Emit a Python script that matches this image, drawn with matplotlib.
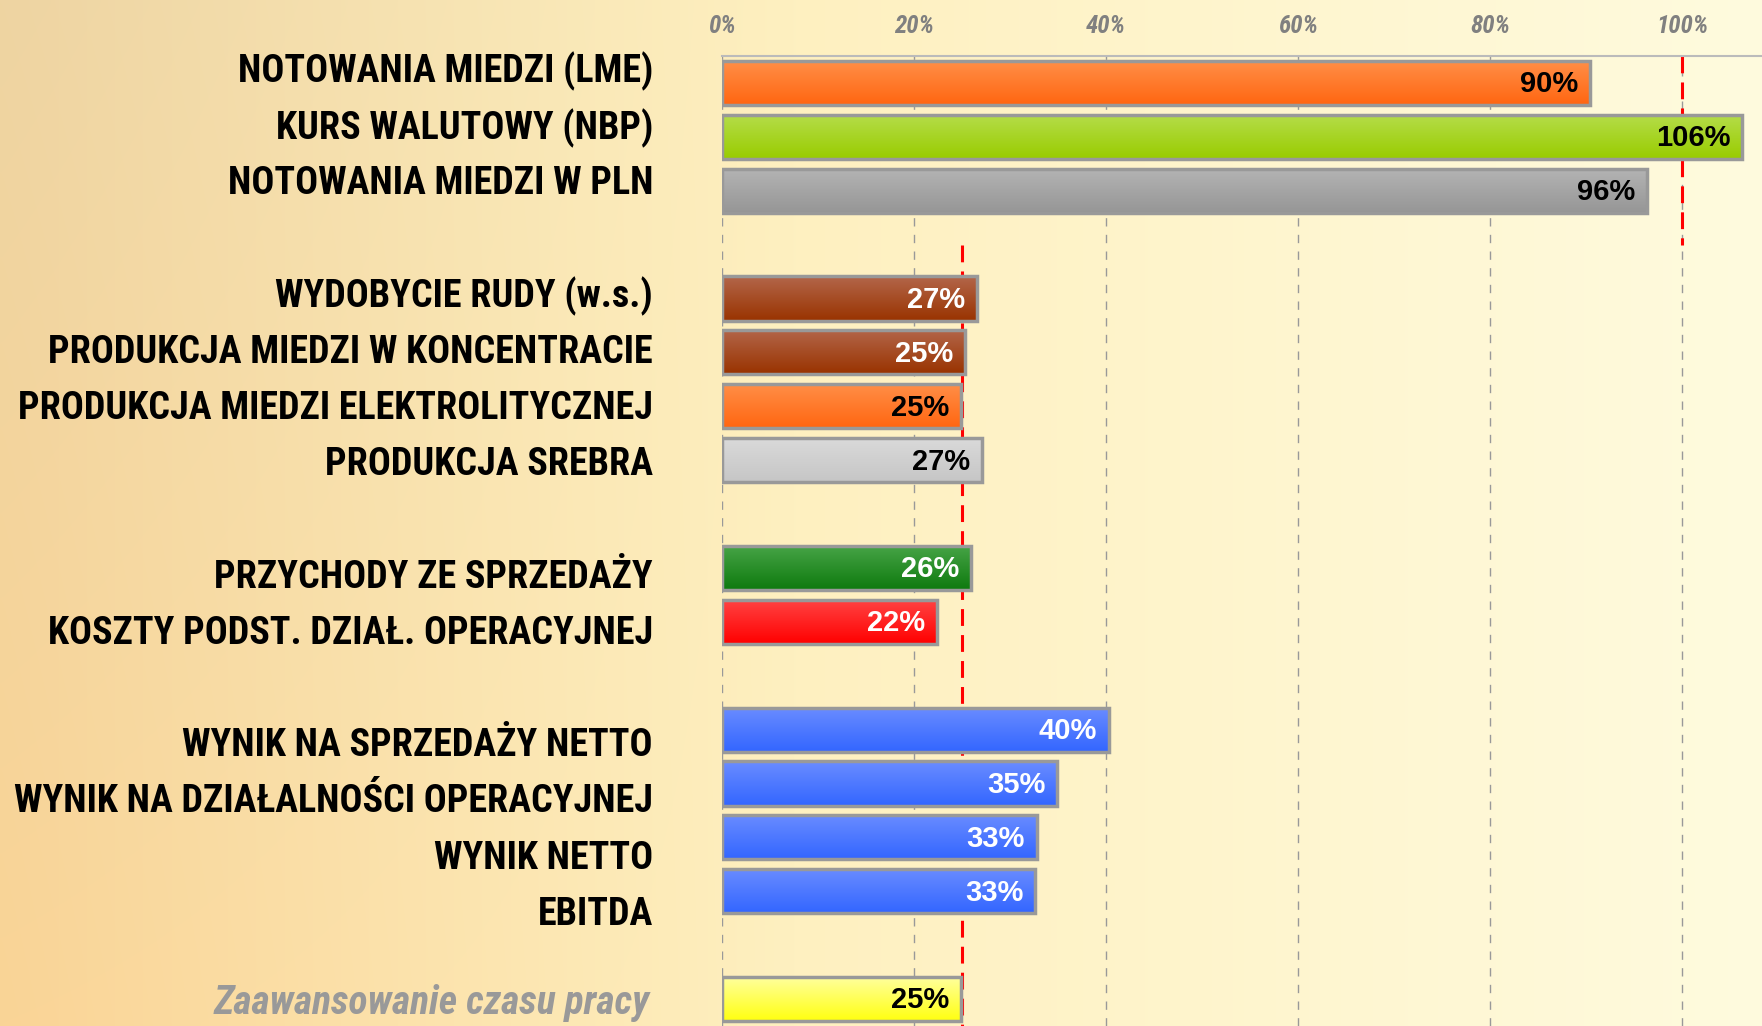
import numpy as np
import matplotlib
matplotlib.use("Agg")
import matplotlib.pyplot as plt
from matplotlib import transforms
from matplotlib.colors import to_rgb

# =========================
# data
# =========================
labels = [
    "NOTOWANIA MIEDZI (LME)",
    "KURS WALUTOWY (NBP)",
    "NOTOWANIA MIEDZI W PLN",
    "WYDOBYCIE RUDY (w.s.)",
    "PRODUKCJA MIEDZI W KONCENTRACIE",
    "PRODUKCJA MIEDZI ELEKTROLITYCZNEJ",
    "PRODUKCJA SREBRA",
    "PRZYCHODY ZE SPRZEDAŻY",
    "KOSZTY PODST. DZIAŁ. OPERACYJNEJ",
    "WYNIK NA SPRZEDAŻY NETTO",
    "WYNIK NA DZIAŁALNOŚCI OPERACYJNEJ",
    "WYNIK NETTO",
    "EBITDA",
    "Zaawansowanie czasu pracy",
]
values = [90.4, 106.3, 96.4, 26.6, 25.3, 24.9, 27.1, 25.9, 22.4, 40.3, 34.9, 32.8, 32.6, 24.9]
groups = [0, 0, 0, 1, 1, 1, 1, 2, 2, 3, 3, 3, 3, 4]   # blank row between groups

# top / bottom colour of each bar's gradient
bar_colors = [
    ("#FF8F48", "#FF6611"),
    ("#B5DD4A", "#99CC00"),
    ("#B4B4B4", "#969696"),
    ("#B3664A", "#993300"),
    ("#B3664A", "#993300"),
    ("#FF8F48", "#FF6611"),
    ("#DADADA", "#C6C6C6"),
    ("#47A447", "#0E7A0E"),
    ("#FF4444", "#FF0000"),
    ("#6A8CFF", "#3366FF"),
    ("#6A8CFF", "#3366FF"),
    ("#6A8CFF", "#3366FF"),
    ("#6A8CFF", "#3366FF"),
    ("#FFFFA0", "#FFFF10"),
]
text_colors = ["black", "black", "black", "white", "white", "black", "black",
               "white", "white", "white", "white", "white", "white", "black"]

xticks = [0, 20, 40, 60, 80, 100]
ref_prices = 100   # reference line for market rows
ref_time = 25      # time progress of the year

pos = [i + g for i, g in enumerate(groups)]

NARROW = "Roboto Condensed"

fig = plt.figure(figsize=(17.62, 10.26), dpi=100)

# background gradient
H, W = 200, 400
xx = np.linspace(0, 1, W)[None, :, None]
yy = np.linspace(0, 1, H)[:, None, None]
left = (1 - yy) * np.array([238, 212, 162]) + yy * np.array([250, 212, 150])
mid = np.array([254, 240, 192])
right = np.array([255, 251, 222])
t1 = np.clip(xx / 0.45, 0, 1)
t2 = np.clip((xx - 0.45) / 0.55, 0, 1)
bg_img = np.where(xx < 0.45, (1 - t1) * left + t1 * mid, (1 - t2) * mid + t2 * right) / 255.0
bg = fig.add_axes([0, 0, 1, 1], zorder=0)
bg.imshow(bg_img, aspect="auto", extent=(0, 1, 0, 1), interpolation="bicubic")
bg.axis("off")

# =========================
# bars
# =========================
ax = fig.add_axes([722 / 1762, 0, 1 - 722 / 1762, 1 - 56 / 1026], zorder=2)
ax.patch.set_alpha(0)

bar_h = 0.82
bars = ax.barh(pos, values, height=bar_h, facecolor="none",
               edgecolor="#999999", linewidth=2.5, zorder=4)

for p, (c_top, c_bot) in zip(bars.patches, bar_colors):
    x0, y0 = p.get_x(), p.get_y()
    w, h = p.get_width(), p.get_height()
    t = np.linspace(0, 1, 64)[:, None, None]
    img = (1 - t) * np.array(to_rgb(c_top)) + t * np.array(to_rgb(c_bot))
    ax.imshow(img, extent=(x0, x0 + w, y0 + h, y0), aspect="auto",
              interpolation="bicubic", zorder=3)

for v, y, c in zip(values, pos, text_colors):
    ax.annotate(f"{v:.0f}%", (v, y), xytext=(-8.5, -1), textcoords="offset points",
                ha="right", va="center", fontsize=21, fontweight="bold",
                family="Liberation Sans", color=c, zorder=5)

# red reference lines
split = (pos[2] + pos[3]) / 2
ax.plot([ref_prices, ref_prices], [-0.5, split], color="red", lw=2.2,
        dashes=(5.5, 3), zorder=2)
ax.plot([ref_time, ref_time], [split, pos[-1] + 0.5], color="red", lw=2.2,
        dashes=(5.5, 3), zorder=2)

ax.set_xlim(0, 1040 / 9.6)
ax.set_ylim(pos[-1] + 0.5, -0.5)
ax.set_yticks([])
ax.xaxis.tick_top()
ax.set_xticks(xticks)
ax.set_xticklabels([f"{t}%" for t in xticks], fontsize=18, fontstyle="italic",
                   fontweight="bold", family=NARROW, color="#808080")
ax.tick_params(axis="x", length=0, pad=13)
ax.grid(axis="x", color="#999999", linestyle=(0, (6, 6)), linewidth=1, zorder=1)
ax.set_axisbelow(True)
for s in ["left", "right", "bottom"]:
    ax.spines[s].set_visible(False)
ax.spines["top"].set_color("#BBBBBB")
ax.spines["top"].set_linewidth(1.5)

# =========================
# category labels (own column, slightly wider row pitch)
# =========================
lab = fig.add_axes([0, 0, 653 / 1762, 1], zorder=1)
lab.axis("off")
lab.set_xlim(0, 1)
lab.set_ylim((1026 - 67.4) / 56.2, -67.4 / 56.2)

lab_size = 28
texts = []
for name, y in zip(labels[:-1], pos[:-1]):
    texts.append(lab.text(1, y, name, ha="right", va="center_baseline", fontsize=lab_size,
                          fontweight="bold", family=NARROW, color="black"))

# shrink the label font if the widest label would not fit in the left column
r = fig.canvas.get_renderer()
widest = max(t.get_window_extent(r).width for t in texts)
if widest > 640:
    for t in texts:
        t.set_fontsize(lab_size * 640 / widest)

blend = transforms.blended_transform_factory(fig.transFigure, ax.transData)
ax.text(650 / 1762, pos[-1], labels[-1], transform=blend, ha="right",
        va="center_baseline", fontsize=texts[0].get_fontsize() * 1.04, fontweight="bold",
        fontstyle="italic", family=NARROW, color="#999999", clip_on=False)

fig.savefig("out.png", dpi=100)
